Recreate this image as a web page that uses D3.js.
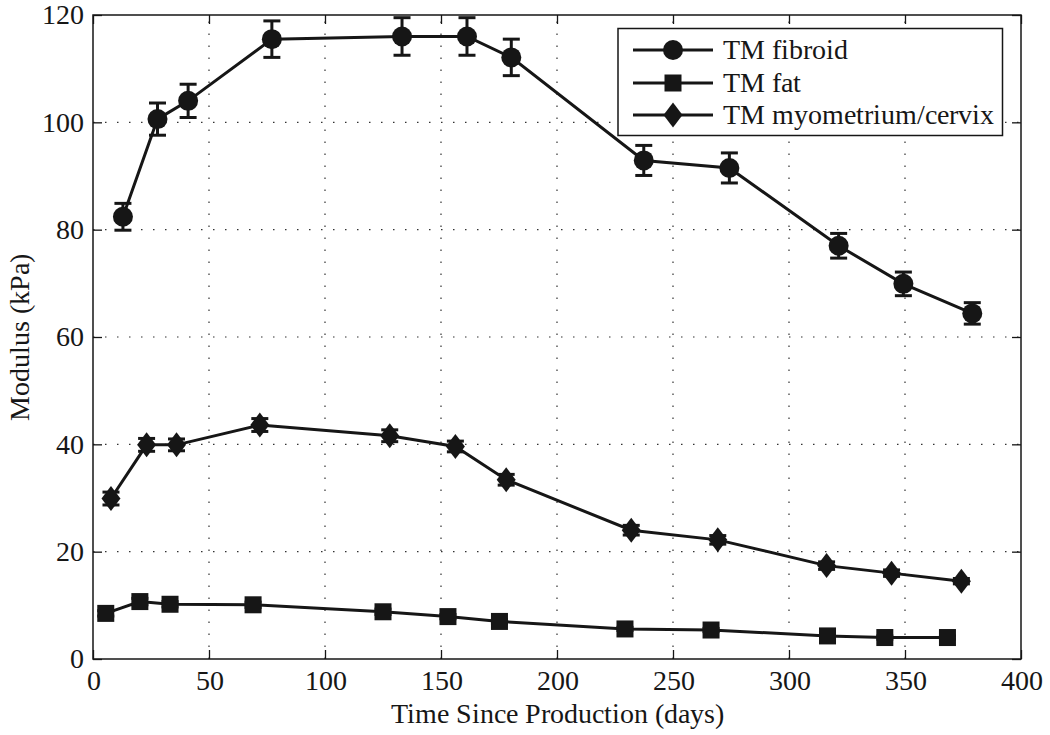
<!DOCTYPE html>
<html><head><meta charset="utf-8">
<script src="https://cdn.jsdelivr.net/npm/d3@7"></script>
<style>
@font-face{font-family:"ChartSerif";src:local("Liberation Serif"),local("LiberationSerif"),local("Times New Roman");}
</style>
</head><body style="margin:0">
<svg id="c" width="1050" height="735"></svg>
<script>
const seriesNames = ["TM fibroid", "TM fat", "TM myometrium/cervix"];
const fibroidX = [12.9, 27.8, 41.0, 77.1, 133.2, 161.2, 180.3, 237.4, 274.3, 321.4, 349.3, 379.0];
const fibroidY = [82.4, 100.6, 104.0, 115.5, 116.0, 116.0, 112.1, 92.9, 91.5, 77.0, 69.9, 64.4];
const fibroidErr = [2.5, 3.0, 3.1, 3.4, 3.5, 3.5, 3.4, 2.8, 2.8, 2.3, 2.2, 2.0];
const fatX = [5.5, 20.2, 33.2, 69.0, 125.0, 153.0, 175.2, 229.3, 266.4, 316.6, 341.3, 368.3];
const fatY = [8.5, 10.7, 10.2, 10.1, 8.8, 7.9, 7.0, 5.6, 5.4, 4.3, 4.0, 4.0];
const fatErr = [0.5, 0.6, 0.5, 0.5, 0.5, 0.4, 0.4, 0.3, 0.3, 0.3, 0.3, 0.3];
const myoX = [7.75, 23.1, 36.0, 71.9, 127.9, 156.2, 178.1, 232.0, 269.3, 316.2, 344.2, 374.3];
const myoY = [29.9, 39.9, 39.9, 43.6, 41.6, 39.6, 33.4, 24.0, 22.2, 17.4, 16.0, 14.5];
const myoErr = [1.2, 1.2, 1.1, 1.2, 1.1, 1.0, 1.0, 0.9, 0.8, 0.7, 0.6, 0.5];
const xTicks = [0, 50, 100, 150, 200, 250, 300, 350, 400];
const yTicks = [0, 20, 40, 60, 80, 100, 120];

const svg = d3.select("#c");
const L = 93, R = 1021, T = 15, B = 659;
const x = d3.scaleLinear().domain([0, 400]).range([L, R]);
const y = d3.scaleLinear().domain([0, 120]).range([B, T]);
const ink = "#161616";
const serifFamily = "ChartSerif, 'Liberation Serif', 'Times New Roman', serif";
const fs = 28;
function setFont(sel) {
  sel.attr("font-family", "Liberation Serif").attr("font-size", fs).attr("fill", ink)
    .each(function() {
      this.style.setProperty("font-family", serifFamily, "important");
      this.style.setProperty("font-size", fs + "px", "important");
    });
}

// grid
const g = svg.append("g");
g.selectAll(".vg").data(xTicks.slice(1, -1)).enter().append("line")
  .attr("x1", d => x(d)).attr("x2", d => x(d)).attr("y1", B).attr("y2", T)
  .attr("stroke", "#333").attr("stroke-width", 1.2).attr("stroke-dasharray", "1.5,10.5");
g.selectAll(".hg").data(yTicks.slice(1, -1)).enter().append("line")
  .attr("y1", d => y(d)).attr("y2", d => y(d)).attr("x1", L).attr("x2", R)
  .attr("stroke", "#333").attr("stroke-width", 1.2).attr("stroke-dasharray", "1.5,10.5");

// axes
const ax = d3.axisBottom(x).tickValues(xTicks).tickSizeInner(-9).tickSizeOuter(0).tickPadding(11);
const ay = d3.axisLeft(y).tickValues(yTicks).tickSizeInner(-9).tickSizeOuter(0).tickPadding(9);
const axT = d3.axisTop(x).tickValues(xTicks).tickSizeInner(-9).tickSizeOuter(0).tickFormat("");
const ayR = d3.axisRight(y).tickValues(yTicks).tickSizeInner(-9).tickSizeOuter(0).tickFormat("");
function style(sel) {
  sel.attr("font-family", null).attr("font-size", null);
  sel.selectAll("line").attr("stroke", ink).attr("stroke-width", 1.3);
  sel.select(".domain").remove();
  sel.selectAll("text").call(setFont);
}
svg.append("g").attr("transform", `translate(0,${B})`).call(ax).call(style);
svg.append("g").attr("transform", `translate(${L},0)`).call(ay).call(style);
svg.append("g").attr("transform", `translate(0,${T})`).call(axT).call(style);
svg.append("g").attr("transform", `translate(${R},0)`).call(ayR).call(style);
svg.append("rect").attr("x", L).attr("y", T).attr("width", R - L).attr("height", B - T)
  .attr("fill", "none").attr("stroke", ink).attr("stroke-width", 1.5);

// labels
svg.append("text").attr("x", (L + R) / 2).attr("y", 723).attr("text-anchor", "middle")
  .call(setFont).text("Time Since Production (days)");
svg.append("text").attr("transform", `translate(29,${(T + B) / 2}) rotate(-90)`).attr("text-anchor", "middle")
  .call(setFont).text("Modulus (kPa)");

const series = [
  {name: seriesNames[0], xs: fibroidX, ys: fibroidY, es: fibroidErr, m: "circle"},
  {name: seriesNames[1], xs: fatX, ys: fatY, es: fatErr, m: "square"},
  {name: seriesNames[2], xs: myoX, ys: myoY, es: myoErr, m: "diamond"}
];
function marker(sel, type) {
  if (type === "circle") sel.append("circle").attr("r", 10).attr("fill", ink);
  else if (type === "square") sel.append("rect").attr("x", -8.5).attr("y", -8.5).attr("width", 17).attr("height", 17).attr("fill", ink);
  else sel.append("path").attr("d", "M0,-12.5L9.5,0L0,12.5L-9.5,0Z").attr("fill", ink);
}
const line = d3.line().x(d => x(d[0])).y(d => y(d[1]));
series.forEach(s => {
  const pts = s.xs.map((v, i) => [v, s.ys[i], s.es[i]]);
  const sg = svg.append("g");
  sg.append("path").datum(pts).attr("d", line).attr("fill", "none").attr("stroke", ink).attr("stroke-width", 3);
  const eb = sg.selectAll(".eb").data(pts).enter().append("g");
  eb.append("line").attr("x1", d => x(d[0])).attr("x2", d => x(d[0]))
    .attr("y1", d => y(d[1] - d[2])).attr("y2", d => y(d[1] + d[2])).attr("stroke", ink).attr("stroke-width", 3);
  [-1, 1].forEach(sgn => {
    eb.append("line").attr("x1", d => x(d[0]) - 8.5).attr("x2", d => x(d[0]) + 8.5)
      .attr("y1", d => y(d[1] + sgn * d[2])).attr("y2", d => y(d[1] + sgn * d[2])).attr("stroke", ink).attr("stroke-width", 3);
  });
  sg.selectAll(".mk").data(pts).enter().append("g")
    .attr("transform", d => `translate(${x(d[0])},${y(d[1])})`).each(function() { marker(d3.select(this), s.m); });
});

// legend
const lg = svg.append("g");
lg.append("rect").attr("x", 618).attr("y", 28.5).attr("width", 384.5).attr("height", 107)
  .attr("fill", "#fff").attr("stroke", ink).attr("stroke-width", 1.5);
const rowsY = [50, 83, 115];
series.forEach((s, i) => {
  lg.append("line").attr("x1", 633).attr("x2", 713).attr("y1", rowsY[i]).attr("y2", rowsY[i])
    .attr("stroke", ink).attr("stroke-width", 3);
  const mg = lg.append("g").attr("transform", `translate(673,${rowsY[i]})`);
  marker(mg, s.m);
  lg.append("text").attr("x", 723).attr("y", rowsY[i] + 9).call(setFont).text(s.name);
});
</script>
</body></html>
